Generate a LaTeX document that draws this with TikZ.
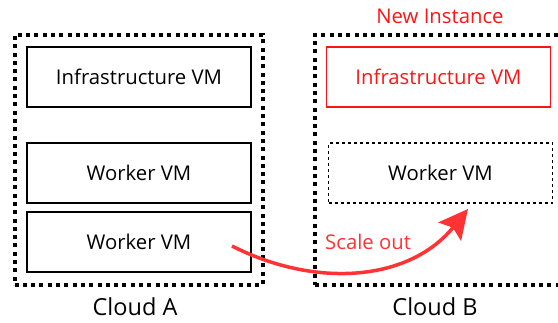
\documentclass[tikz,border=0pt]{standalone}
\usepackage{fontspec}
\setmainfont{Open Sans}
\usetikzlibrary{arrows.meta}
\definecolor{newred}{RGB}{255,20,20}
\definecolor{arrowred}{RGB}{255,51,51}
\begin{document}
\begin{tikzpicture}[x=1pt,y=1pt,
  cloudbox/.style={draw=black, line width=4pt, dash pattern=on 4pt off 4.3pt, minimum height=250pt, inner sep=0pt},
  vmbox/.style={draw=black, line width=1.2pt, minimum width=224pt, minimum height=60pt, inner sep=0pt, font=\fontsize{20.3}{23}\selectfont},
  newbox/.style={vmbox, draw=newred, text=newred},
  dashbox/.style={vmbox, dash pattern=on 3pt off 3pt},
  cloudlabel/.style={inner sep=0pt, font=\fontsize{23.5}{26}\selectfont},
  redlabel/.style={inner sep=0pt, font=\fontsize{20.3}{23}\selectfont},
  scalearrow/.style={draw=arrowred, line width=3.5pt, -{Stealth[length=29pt,width=29pt,inset=5pt]}}
]
\useasboundingbox (0,0) rectangle (558,322);
\clip (0,0) rectangle (558,322);
\node[cloudbox, minimum width=248pt] (cloudA) at (138.5,162) {};
\node[cloudbox, minimum width=262pt] (cloudB) at (446,162) {};
\node[vmbox] (infraA) at (139,245) {Infrastructure VM};
\node[vmbox] (workerA1) at (139,149) {Worker VM};
\node[vmbox] (workerA2) at (139,80) {Worker VM};
\node[newbox] (infraB) at (438.5,245) {Infrastructure VM};
\node[dashbox] (workerB) at (440.5,149) {Worker VM};
\node[cloudlabel] (labelA) at (135,15) {Cloud A};
\node[cloudlabel] (labelB) at (435,15) {Cloud B};
\node[redlabel, text=newred] (newinst) at (440,305.5) {New Instance};
\node[redlabel, text=arrowred, anchor=base west] (scaleout) at (325,72) {Scale out};
\coordinate (arrowstart) at (232,76);
\coordinate (arrowend) at (468,113);
\draw[scalearrow] (arrowstart) to[out=-27, in=231] (arrowend);
\end{tikzpicture}
\end{document}
